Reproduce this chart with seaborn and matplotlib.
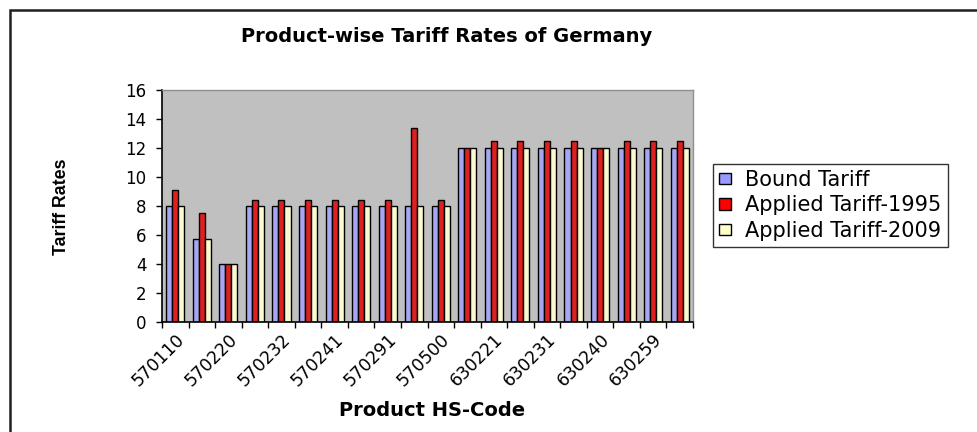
import matplotlib
matplotlib.use("Agg")
import matplotlib.pyplot as plt
import seaborn as sns
import pandas as pd
import numpy as np
from matplotlib.patches import Rectangle
from matplotlib.ticker import FixedLocator, MultipleLocator

# ---- data ----
tick_labels = ["570110", "570220", "570232", "570241", "570291",
               "570500", "630221", "630231", "630240", "630259"]
n_products = 20
bound_tariff = [8, 5.7, 4, 8, 8, 8, 8, 8, 8, 8, 8, 12, 12, 12, 12, 12, 12, 12, 12, 12]
applied_1995 = [9.1, 7.5, 4, 8.4, 8.4, 8.4, 8.4, 8.4, 8.4, 13.4, 8.4, 12, 12.5, 12.5, 12.5, 12.5, 12, 12.5, 12.5, 12.5]
applied_2009 = [8, 5.7, 4, 8, 8, 8, 8, 8, 8, 8, 8, 12, 12, 12, 12, 12, 12, 12, 12, 12]
series_names = ["Bound Tariff", "Applied Tariff-1995", "Applied Tariff-2009"]
colors = ["#9999FF", "#FF0000", "#FFFFCC"]

rows = []
for name, vals in zip(series_names, [bound_tariff, applied_1995, applied_2009]):
    for i, v in enumerate(vals):
        rows.append({"product": i, "series": name, "rate": v})
df = pd.DataFrame(rows)

sns.set_theme(style="white")
plt.rcParams["font.family"] = ["DejaVu Sans"]
plt.rcParams["text.color"] = "black"
plt.rcParams["xtick.color"] = "black"
plt.rcParams["ytick.color"] = "black"
plt.rcParams["xtick.labelcolor"] = "black"
plt.rcParams["ytick.labelcolor"] = "black"

fig = plt.figure(figsize=(9.77, 4.32), dpi=100)
W, H = 977, 432
ax = fig.add_axes([162 / W, 1 - 322 / H, (693 - 162) / W, (322 - 90) / H])
ax.set_facecolor("#C0C0C0")

sns.barplot(data=df, x="product", y="rate", hue="series", order=list(range(n_products)),
            hue_order=series_names, palette=colors, width=0.68, gap=0,
            edgecolor="black", linewidth=1.0, ax=ax, legend=True)

ax.set_ylim(0, 16)
ax.set_xlim(-0.5, n_products - 0.5)
ax.yaxis.set_major_locator(MultipleLocator(2))
ax.tick_params(axis="y", which="major", direction="out", length=4, width=1,
               color="black", labelcolor="black", labelsize=12, pad=7, left=True)
ax.set_xticks(list(range(0, n_products, 2)))
ax.set_xticklabels(tick_labels, rotation=45, ha="right", rotation_mode="anchor",
                   fontsize=12.5, color="black")
ax.xaxis.set_minor_locator(FixedLocator(np.arange(-0.5, n_products, 1.0)))
ax.tick_params(axis="x", which="major", length=0, pad=6, bottom=True)
ax.tick_params(axis="x", which="minor", direction="out", length=4, width=1,
               color="black", bottom=True)
ax.set_xlabel("")
ax.set_ylabel("")
for s in ["left", "bottom"]:
    ax.spines[s].set_color("black")
    ax.spines[s].set_linewidth(1.2)
for s in ["top", "right"]:
    ax.spines[s].set_color("#909090")
    ax.spines[s].set_linewidth(1.0)

leg = ax.get_legend()
leg.remove()
handles = [Rectangle((0, 0), 1, 1, facecolor=c, edgecolor="black", linewidth=1) for c in colors]
lg = fig.legend(handles, series_names, loc="upper left", bbox_to_anchor=(713 / W, 1 - 164 / H),
                frameon=True, fancybox=False, shadow=False, fontsize=15, edgecolor="black",
                handlelength=0.55, handleheight=0.45, handletextpad=0.7, borderpad=0.3,
                labelspacing=0.25, borderaxespad=0)
lg.get_frame().set_linewidth(1.0)
for t in lg.get_texts():
    t.set_color("black")

fig.text(447 / W, 1 - 37 / H, "Product-wise Tariff Rates of Germany", ha="center", va="center",
         fontsize=14, fontweight="bold", color="black")
fig.text(432 / W, 1 - 410 / H, "Product HS-Code", ha="center", va="center",
         fontsize=14, fontweight="bold", color="black")
fig.text(62 / W, 1 - 207 / H, "Tariff Rates", ha="center", va="center", rotation=90,
         fontsize=12.8, fontweight="bold", color="black",
         family=["Liberation Sans", "DejaVu Sans"])

# outer chart frame (top and left edges visible)
fig.add_artist(Rectangle((10 / W, -0.05), 1.1, 1 - 10 / H + 0.05, transform=fig.transFigure,
                         fill=False, edgecolor="#202020", linewidth=1.8))

fig.savefig("out.png", dpi=100)
